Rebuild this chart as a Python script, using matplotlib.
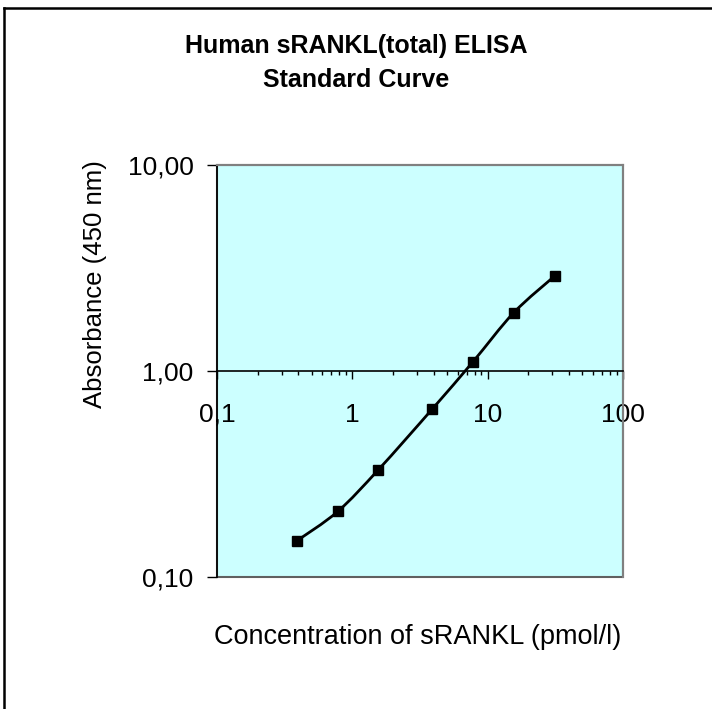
import numpy as np
import matplotlib
matplotlib.use("Agg")
from matplotlib import pyplot as plt
from matplotlib.path import Path
from matplotlib.patches import PathPatch, Rectangle
from matplotlib.lines import Line2D
from matplotlib.ticker import FixedLocator, FuncFormatter, LogLocator, NullFormatter

# standard concentrations (pmol/l) and absorbance at 450 nm
concentration = [0.39, 0.78, 1.56, 3.9, 7.8, 15.6, 31.25]
absorbance = [0.150, 0.208, 0.332, 0.654, 1.11, 1.92, 2.89]

x_ticks = [0.1, 1, 10, 100]
y_ticks = [0.1, 1, 10]

plt.rcParams['font.family'] = ['Liberation Sans', 'DejaVu Sans']


def smooth_path(xs, ys, tension=1 / 6):
    # Excel-like smoothed line: cubic Bezier segments in log space
    lx = np.log10(xs)
    ly = np.log10(ys)
    pts = np.column_stack([lx, ly])
    n = len(pts)
    verts = [pts[0]]
    codes = [Path.MOVETO]
    for i in range(n - 1):
        p0 = pts[max(i - 1, 0)]
        p1 = pts[i]
        p2 = pts[i + 1]
        p3 = pts[min(i + 2, n - 1)]
        c1 = p1 + (p2 - p0) * tension
        c2 = p2 - (p3 - p1) * tension
        verts += [c1, c2, p2]
        codes += [Path.CURVE4] * 3
    return Path(10 ** np.array(verts), codes)


fig = plt.figure(figsize=(7.12, 7.09), dpi=100)
ax = fig.add_axes([0.3048, 0.1862, 0.5702, 0.5811])
ax.set_facecolor('#CCFFFF')
ax.set_xscale('log')
ax.set_yscale('log')
ax.set_xlim(0.1, 100)
ax.set_ylim(0.1, 10)

ax.add_patch(PathPatch(smooth_path(concentration, absorbance), transform=ax.transData,
                       facecolor='none', edgecolor='black', lw=2, zorder=3))
ax.plot(concentration, absorbance, linestyle='none', marker='s', ms=7.5,
        color='black', zorder=4)

# plot area frame
for side in ['top', 'right']:
    ax.spines[side].set_color('#808080')
    ax.spines[side].set_linewidth(1.5)
ax.add_patch(Rectangle((0, 0), 1, 1, transform=ax.transAxes, fill=False,
                       edgecolor='#606060', lw=1.5, zorder=1, clip_on=False))
ax.spines['left'].set_color('black')
ax.spines['left'].set_linewidth(1.2)
ax.spines['bottom'].set_position(('data', 1))
ax.spines['bottom'].set_linewidth(1.2)

ax.xaxis.set_major_locator(FixedLocator(x_ticks))
ax.xaxis.set_minor_locator(LogLocator(base=10, subs=np.arange(2, 10)))
ax.xaxis.set_minor_formatter(NullFormatter())
ax.xaxis.set_major_formatter(FuncFormatter(lambda v, p: ('%g' % v).replace('.', ',')))
ax.yaxis.set_major_locator(FixedLocator(y_ticks))
ax.yaxis.set_minor_locator(FixedLocator([]))
ax.yaxis.set_major_formatter(FuncFormatter(lambda v, p: ('%.2f' % v).replace('.', ',')))

ax.tick_params(axis='x', which='major', direction='out', length=6, width=1, pad=17,
               labelsize=19)
ax.tick_params(axis='x', which='minor', direction='out', length=3, width=1)
ax.tick_params(axis='y', which='major', direction='out', length=7, width=1, pad=10,
               labelsize=19)

fig.text(0.5, 0.952, 'Human sRANKL(total) ELISA\nStandard Curve', ha='center', va='top',
         fontsize=18, fontweight='bold', linespacing=1.5)
fig.text(0.133, 0.599, 'Absorbance (450 nm)', rotation=90, ha='center', va='center',
         fontsize=18.5)
fig.text(0.587, 0.101, 'Concentration of sRANKL (pmol/l)', ha='center', va='center',
         fontsize=19.5)

# chart border (left and top edges are in view)
fig.add_artist(Line2D([0.005, 0.005], [0, 0.989], transform=fig.transFigure,
                      color='black', lw=1.8))
fig.add_artist(Line2D([0.005, 1], [0.989, 0.989], transform=fig.transFigure,
                      color='black', lw=1.8))

fig.savefig('out.png', dpi=100)
